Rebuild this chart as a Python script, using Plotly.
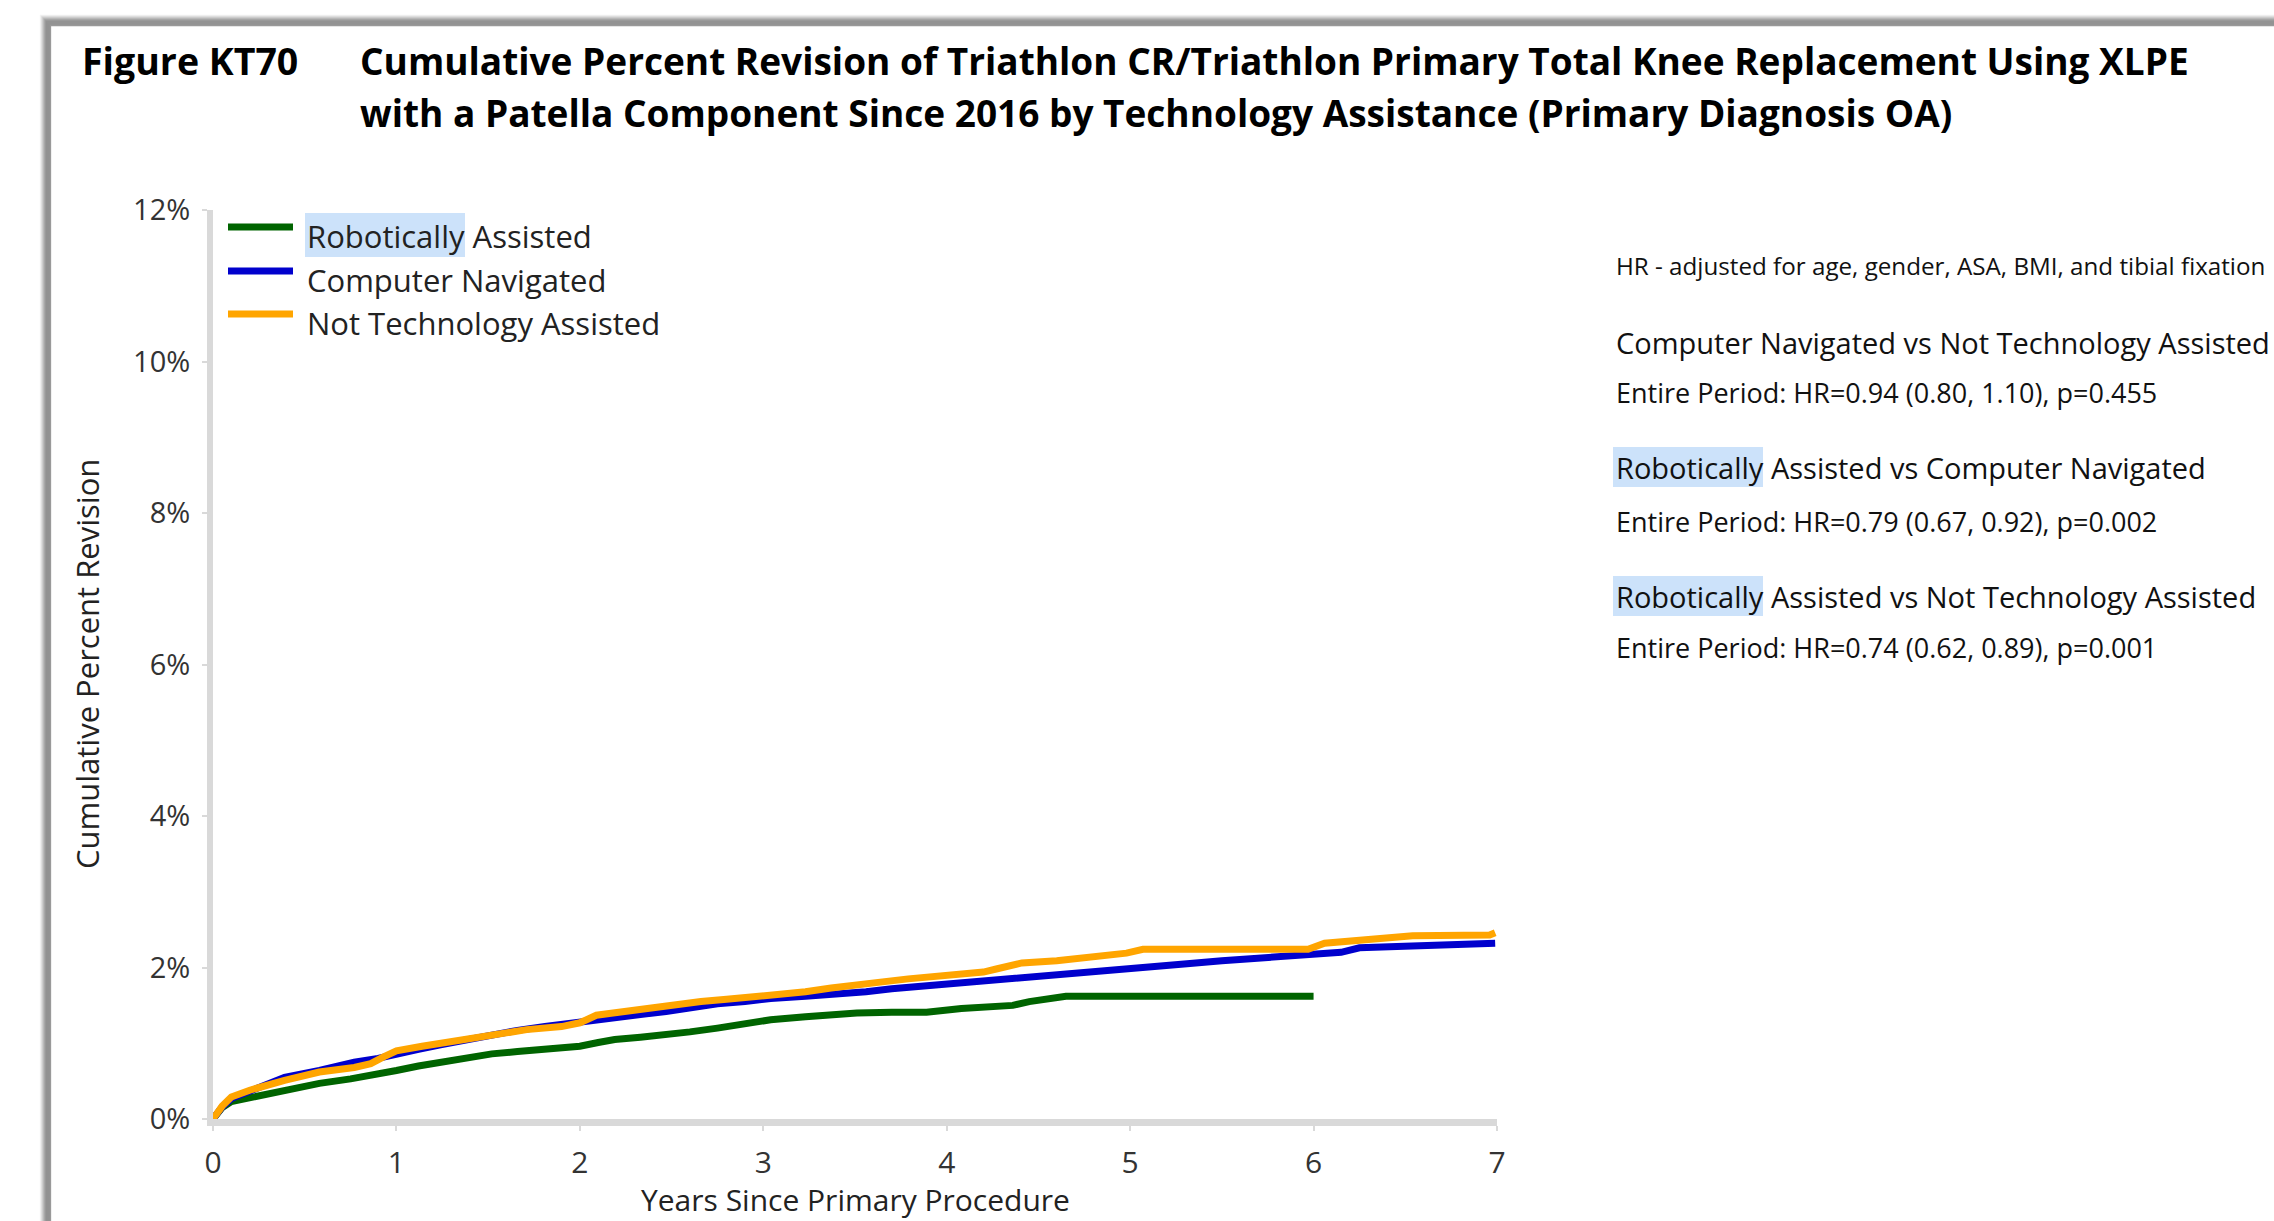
import plotly.graph_objects as go

# ---------------- data (years, cumulative percent revision) ----------------
robotic_years = [0, 0.05, 0.1, 0.2, 0.29, 0.4, 0.58, 0.75, 0.86, 1.0, 1.12, 1.24, 1.38, 1.52, 1.66, 1.81, 2.0, 2.1, 2.19,
                 2.33, 2.47, 2.6, 2.75, 2.9, 3.04, 3.23, 3.37, 3.51, 3.7, 3.89, 4.08, 4.2, 4.36, 4.45, 4.55, 4.65, 5.0,
                 5.5, 6.0]
robotic_pct = [0, 0.15, 0.23, 0.28, 0.32, 0.38, 0.47, 0.53, 0.57, 0.64, 0.70, 0.75, 0.81, 0.86, 0.89, 0.92, 0.96, 1.01,
               1.05, 1.08, 1.11, 1.15, 1.20, 1.25, 1.31, 1.35, 1.38, 1.40, 1.41, 1.41, 1.46, 1.48, 1.50, 1.55, 1.59,
               1.62, 1.62, 1.62, 1.62]

navigated_years = [0, 0.05, 0.1, 0.2, 0.39, 0.58, 0.77, 0.9, 1.0, 1.12, 1.24, 1.38, 1.52, 1.66, 1.81, 2.0, 2.19, 2.33,
                   2.47, 2.61, 2.75, 2.9, 3.04, 3.23, 3.42, 3.56, 3.70, 3.84, 3.98, 4.13, 4.27, 4.41, 4.55, 4.69, 4.83,
                   4.98, 5.12, 5.31, 5.50, 5.64, 5.78, 6.02, 6.15, 6.25, 6.54, 6.8, 6.99]
navigated_pct = [0, 0.16, 0.27, 0.36, 0.55, 0.64, 0.75, 0.80, 0.86, 0.92, 0.98, 1.05, 1.12, 1.17, 1.22, 1.27, 1.33, 1.38,
                 1.42, 1.47, 1.52, 1.55, 1.59, 1.62, 1.65, 1.68, 1.72, 1.75, 1.77, 1.80, 1.85, 1.88, 1.91, 1.93, 1.96,
                 1.99, 2.02, 2.05, 2.09, 2.11, 2.13, 2.17, 2.20, 2.26, 2.28, 2.29, 2.32]

not_assisted_years = [0, 0.05, 0.1, 0.2, 0.39, 0.58, 0.77, 0.86, 0.93, 1.0, 1.14, 1.33, 1.52, 1.71, 1.90, 2.0, 2.09,
                      2.23, 2.37, 2.52, 2.66, 2.8, 2.94, 3.08, 3.23, 3.37, 3.51, 3.65, 3.79, 3.94, 4.08, 4.2, 4.27, 4.35,
                      4.41, 4.6, 4.74, 4.9, 4.98, 5.07, 5.5, 5.97, 6.06, 6.3, 6.54, 6.96, 6.99]
not_assisted_pct = [0, 0.17, 0.29, 0.38, 0.51, 0.62, 0.68, 0.73, 0.82, 0.90, 0.96, 1.03, 1.11, 1.18, 1.22, 1.27, 1.37,
                    1.42, 1.46, 1.51, 1.55, 1.58, 1.61, 1.65, 1.68, 1.73, 1.78, 1.81, 1.85, 1.88, 1.91, 1.94, 1.98,
                    2.02, 2.06, 2.09, 2.12, 2.16, 2.19, 2.24, 2.24, 2.24, 2.32, 2.37, 2.42, 2.43, 2.46]

series_names = ["Robotically Assisted", "Computer Navigated", "Not Technology Assisted"]
series_colors = ["#006400", "#0000CD", "#FFA500"]

x_ticks = [0, 1, 2, 3, 4, 5, 6, 7]
y_ticks = [0, 2, 4, 6, 8, 10, 12]
y_tick_labels = ["0%", "2%", "4%", "6%", "8%", "10%", "12%"]

title_label = "Figure KT70"
title_lines = ["Cumulative Percent Revision of Triathlon CR/Triathlon Primary Total Knee Replacement Using XLPE",
               "with a Patella Component Since 2016 by Technology Assistance (Primary Diagnosis OA)"]
x_title = "Years Since Primary Procedure"
y_title = "Cumulative Percent Revision"

hr_note = "HR - adjusted for age, gender, ASA, BMI, and tibial fixation"
hr_comparisons = [
    ("Computer Navigated vs Not Technology Assisted", "Entire Period: HR=0.94 (0.80, 1.10), p=0.455"),
    ("Robotically Assisted vs Computer Navigated", "Entire Period: HR=0.79 (0.67, 0.92), p=0.002"),
    ("Robotically Assisted vs Not Technology Assisted", "Entire Period: HR=0.74 (0.62, 0.89), p=0.001"),
]

# ---------------- layout geometry (pixels) ----------------
W, H = 2274, 1221
L, R, T, B = 213, 1497, 210, 1119
FONT = "Open Sans"


def px(xp):
    return (xp - L) / (R - L)


def py(yp):
    return (B - yp) / (B - T)


fig = go.Figure()
for name, xs, ys, col in zip(series_names,
                             [robotic_years, navigated_years, not_assisted_years],
                             [robotic_pct, navigated_pct, not_assisted_pct],
                             series_colors):
    fig.add_trace(go.Scatter(x=xs, y=ys, mode="lines", name=name,
                             line=dict(color=col, width=7), showlegend=False))

annotations = []
shapes = []

# Title
annotations.append(dict(text=title_label, x=px(80), y=py(61), xref="paper", yref="paper",
                        xanchor="left", yanchor="middle", showarrow=False,
                        font=dict(family=FONT, size=37.5, color="#000", weight="bold")))
for i, line in enumerate(title_lines):
    annotations.append(dict(text=line, x=px(358), y=py(61 + 51 * i), xref="paper", yref="paper",
                            xanchor="left", yanchor="middle", showarrow=False,
                            font=dict(family=FONT, size=37, color="#000", weight="bold")))

# Axis titles
annotations.append(dict(text=y_title, x=px(87), y=py(664), xref="paper", yref="paper",
                        xanchor="center", yanchor="middle", textangle=-90, showarrow=False,
                        font=dict(family=FONT, size=31, color="#222")))
annotations.append(dict(text=x_title, x=px(855), y=py(1222), xref="paper", yref="paper",
                        xanchor="center", yanchor="bottom", showarrow=False,
                        font=dict(family=FONT, size=30, color="#222")))

# Custom legend
HL = "rgb(204,226,250)"
leg_rows = [236, 280, 323]
for name, col, ty in zip(series_names, series_colors, leg_rows):
    shapes.append(dict(type="line", xref="paper", yref="paper", x0=px(228), x1=px(293),
                       y0=py(ty - 9), y1=py(ty - 9), line=dict(color=col, width=7)))
    annotations.append(dict(text=name, x=px(305), y=py(ty), xref="paper", yref="paper",
                            xanchor="left", yanchor="middle", showarrow=False,
                            font=dict(family=FONT, size=31, color="#222")))
shapes.append(dict(type="rect", xref="paper", yref="paper", x0=px(305), x1=px(465),
                   y0=py(257), y1=py(213), fillcolor=HL, line=dict(width=0), layer="below"))

# HR annotations
annotations.append(dict(text=hr_note, x=px(1614), y=py(265), xref="paper", yref="paper",
                        xanchor="left", yanchor="middle", showarrow=False,
                        font=dict(family=FONT, size=24.2, color="#111")))
head_y = [342, 467, 596]
sub_y = [392, 521, 647]
for (head, sub), hy, sy in zip(hr_comparisons, head_y, sub_y):
    annotations.append(dict(text=head, x=px(1614), y=py(hy), xref="paper", yref="paper",
                            xanchor="left", yanchor="middle", showarrow=False,
                            font=dict(family=FONT, size=29, color="#111")))
    annotations.append(dict(text=sub, x=px(1614), y=py(sy), xref="paper", yref="paper",
                            xanchor="left", yanchor="middle", showarrow=False,
                            font=dict(family=FONT, size=27, color="#111")))
for hy in head_y[1:]:
    shapes.append(dict(type="rect", xref="paper", yref="paper", x0=px(1613), x1=px(1763),
                       y0=py(hy + 20), y1=py(hy - 20), fillcolor=HL, line=dict(width=0), layer="below"))

# Page border with shadow (left and top)
shadow = ["#f2f2f2", "#e2e2e2", "#d0d0d0", "#bdbdbd", "#aaaaaa", "#9c9c9c", "#939393", "#939393", "#939393",
          "#939393", "#999999"]
for i, c in enumerate(shadow):
    xo = 40 + i
    yo = 15 + i
    shapes.append(dict(type="line", xref="paper", yref="paper", x0=px(xo + 0.5), x1=px(xo + 0.5),
                       y0=py(yo), y1=py(H + 10), line=dict(color=c, width=1.3), layer="below"))
    shapes.append(dict(type="line", xref="paper", yref="paper", x0=px(xo), x1=px(W + 10),
                       y0=py(yo + 0.5), y1=py(yo + 0.5), line=dict(color=c, width=1.3), layer="below"))

fig.update_layout(
    width=W, height=H,
    margin=dict(l=L, r=W - R, t=T, b=H - B, pad=0),
    paper_bgcolor="white", plot_bgcolor="rgba(0,0,0,0)",
    showlegend=False,
    annotations=annotations, shapes=shapes,
    xaxis=dict(range=[0, 7], tickvals=x_ticks, ticktext=[str(v) for v in x_ticks],
               showgrid=False, zeroline=False, showline=True, linecolor="#d9d9d9", linewidth=7,
               ticks="outside", ticklen=5, tickcolor="#d9d9d9", tickwidth=2,
               ticklabelstandoff=6,
               tickfont=dict(family=FONT, size=30, color="#333")),
    yaxis=dict(range=[0, 12], tickvals=y_ticks, ticktext=y_tick_labels,
               showgrid=False, zeroline=False, showline=True, linecolor="#d9d9d9", linewidth=6,
               ticks="outside", ticklen=5, tickcolor="#d9d9d9", tickwidth=2,
               ticklabelstandoff=6,
               tickfont=dict(family=FONT, size=29, color="#333")),
)

fig.write_html("out.html", config={"displayModeBar": False},
               post_script="document.body.style.margin='0';document.body.style.overflow='hidden';")
